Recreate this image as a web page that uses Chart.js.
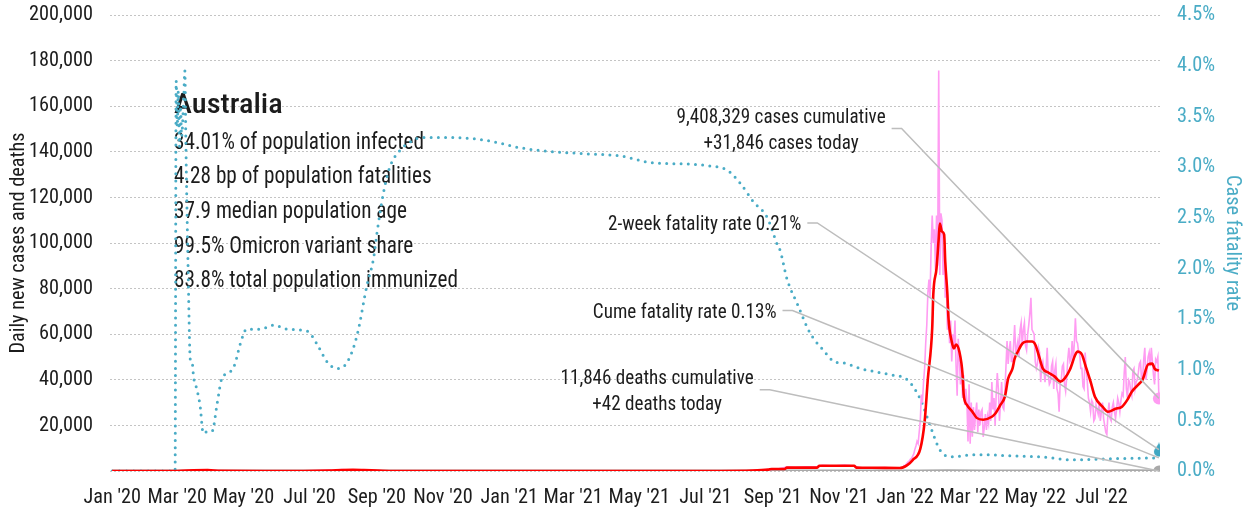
<!DOCTYPE html>
<html>
<head>
<meta charset="utf-8">
<script src="https://cdn.jsdelivr.net/npm/chart.js@4.4.1/dist/chart.umd.min.js"></script>
<style>
html,body{margin:0;padding:0;background:#fff;}
#wrap{width:1247px;height:508px;position:relative;}
</style>
</head>
<body>
<div id="wrap"><canvas id="c" width="1247" height="508"></canvas></div>
<script>
// ---------- DATA (x = days since 1 Jan 2020) ----------
const tickDays   = [0, 60, 121, 182, 244, 305, 366, 425, 486, 547, 609, 670, 731, 790, 851, 912];
const tickLabels = ["Jan '20","Mar '20","May '20","Jul '20","Sep '20","Nov '20","Jan '21","Mar '21","May '21","Jul '21","Sep '21","Nov '21","Jan '22","Mar '22","May '22","Jul '22"];

// 7-day average of daily new cases (red)
const avgDays   = [0,60,75,88,100,150,200,212,222,232,245,260,560,590,605,608,620,622,650,652,684,686,700,726,733,738,745,749,752,756,757,760,762,763,765,767,768,770,771,774,776,778,781,784,785,788,793,797,803,811,814,819,823,826,830,832,835,839,843,848,851,854,858,863,869,874,878,883,888,890,894,897,902,906,913,918,925,931,936,940,946,950,955,959,961,965];
const avgValues = [0,0,300,400,100,10,250,450,500,400,200,20,20,150,600,900,900,1500,1500,2300,2300,1500,1400,1300,2600,4800,9700,21600,40500,62600,77500,89000,102000,108500,105000,103700,92000,77500,67000,56800,53700,55500,52400,42300,33500,29000,26000,23300,22500,23800,25100,29100,32600,40500,44900,49300,52400,55900,56800,56800,55500,51100,44900,43200,41400,39200,40500,44500,51100,52400,51100,46700,39200,32600,28200,26000,27300,28200,31300,34800,37900,40100,46700,47100,44900,44000];

// daily new cases (pink): sparse before Dec 2021, then one value per day
const dailyEarlyDays   = [0,60,70,75,80,85,90,100,110,180,195,205,212,218,225,235,250,265,560,575,590,600,610,615,622,630,640,650,655,665,675,684,688,700,712,720,727];
const dailyEarlyValues = [0,10,200,350,460,400,300,100,20,50,200,400,650,450,550,300,100,20,20,100,250,500,800,1100,1700,1500,1800,2000,2500,2200,2600,2200,1500,1300,1500,1300,1400];
const dailyLateStart = 728;
const dailyLateValues = [
 1500,1800,2400,2200,3000,3600,4100,4500,5200,5500,
 6500,7500,9500,11000,13000,12000,17000,22000,33500,30000,
 39000,45000,56000,64000,78000,84000,76000,98000,112000,100000,
 106000,88000,112000,90000,175700,86000,113000,110000,86000,98000,
 76000,84000,62000,72000,56000,66000,48000,60000,55000,66000,
 46000,33000,58000,50000,38000,47000,32000,42000,29000,36000,
 30000,13000,38000,12000,30000,15000,28000,18000,25000,30000,
 17000,27000,20000,26000,27000,15000,19000,25000,18000,24000,
 21000,30000,22000,39000,27000,32000,20000,34000,43000,36000,
 22000,30000,39000,28000,27000,35000,46000,57000,47000,53000,
 57000,48000,48000,55000,64000,52000,54000,57000,50000,62000,
 65000,55000,62000,65000,55000,53000,60000,64000,69000,76000,
 62000,61000,60000,48000,45000,47000,54000,52000,39000,46000,
 48000,44000,39000,45000,54000,42000,38000,39000,46000,48000,
 36000,44000,47000,36000,34000,26000,39000,40000,46000,47000,
 38000,35000,41000,49000,54000,48000,49000,57000,48000,56000,
 67000,57000,56000,52000,51000,45000,45000,37000,36000,52000,
 45000,39000,32000,30000,26000,31000,30000,22000,23000,29000,
 27000,25000,30000,22000,26000,30000,23000,20000,17000,16000,
 25000,30000,23000,22000,28000,30000,26000,23000,27000,32000,
 30000,26000,31000,34000,33000,43000,50000,36000,32000,40000,
 39000,35000,33000,44000,45000,36000,39000,40000,43000,47000,
 48000,40000,41000,49000,54000,40000,44000,50000,52000,46000,
 54000,48000,42000,38000,49000,48000,50000,31846];

// cumulative case fatality rate, % (teal dotted, right axis)
const cfrDays   = [0,58,59,60,61,62,63,64,66,67,68,70,72,74,75,77,81,84,88,92,97,101,109,113,118,124,137,149,161,180,189,198,207,217,226,235,241,244,250,256,265,277,284,315,346,376,407,438,468,499,530,551,567,579,591,604,613,616,622,632,643,655,668,671,690,717,733,745,754,763,773,794,810,826,856,886,917,965];
const cfrValues = [0,0,3.85,3.4,3.75,3.2,3.6,3.3,3.7,3.95,3.2,2.0,1.1,1.05,0.93,0.85,0.65,0.37,0.39,0.39,0.68,0.91,0.98,1.05,1.25,1.40,1.40,1.44,1.40,1.38,1.25,1.08,1.01,1.08,1.35,1.84,2.10,2.34,2.74,3.0,3.16,3.26,3.29,3.29,3.26,3.19,3.15,3.13,3.11,3.04,3.03,3.01,2.97,2.84,2.66,2.50,2.24,2.17,1.90,1.64,1.37,1.20,1.07,1.07,1.01,0.95,0.90,0.71,0.45,0.21,0.14,0.16,0.16,0.15,0.14,0.11,0.12,0.13];

// daily deaths (gray)
const deathDays   = [0,70,100,180,215,240,600,640,700,745,770,800,850,900,940,965];
const deathValues = [0,4,2,3,18,5,2,12,5,20,80,45,40,30,85,42];

// latest 2-week fatality rate, %
const lastDay = 965;
const twoWeekRate = 0.21;

const infoTitle = 'Australia';
const infoLines = ['34.01% of population infected','4.28 bp of population fatalities','37.9 median population age','99.5% Omicron variant share','83.8% total population immunized'];

const noteTexts = [
  ['9,408,329 cases cumulative','+31,846 cases today'],
  ['2-week fatality rate 0.21%'],
  ['Cume fatality rate 0.13%'],
  ['11,846 deaths cumulative','+42 deaths today']
];

// ---------- fonts: pick a narrow face, then condense glyphs to the reference widths ----------
function hasFont(name) {
  const c = document.createElement('canvas').getContext('2d');
  const s = 'abcdefghijklmnopqrstuvwxyz0123456789,%ABC';
  let diff = false;
  ['monospace', 'serif'].forEach(fb => {
    c.font = `40px ${fb}`; const a = c.measureText(s).width;
    c.font = `40px "${name}", ${fb}`; const b = c.measureText(s).width;
    if (Math.abs(a - b) > 0.5) diff = true;
  });
  return diff;
}
const FACE = ['Liberation Sans Narrow', 'Roboto Condensed', 'Noto Sans Condensed', 'DejaVu Sans Condensed', 'Liberation Sans']
  .find(hasFont) || 'sans-serif';
const FONT = `"${FACE}", sans-serif`;

const mctx = document.createElement('canvas').getContext('2d');
function fit(text, size, target) {
  mctx.font = `${size}px ${FONT}`;
  const w = mctx.measureText(text).width;
  return Math.max(0.6, Math.min(1.2, target / w));
}
const SCALE = {
  tick:  fit('200,000', 21, 64),
  title: fit('Australia', 28, 107),
  info:  fit('34.01% of population infected', 23, 250),
  note:  fit('9,408,329 cases cumulative', 21, 209)
};
let hScale = SCALE.tick;
const origFill = CanvasRenderingContext2D.prototype.fillText;
CanvasRenderingContext2D.prototype.fillText = function (t, x, y) {
  if (hScale === 1) return origFill.call(this, t, x, y);
  this.save(); this.translate(x, y); this.scale(hScale, 1); origFill.call(this, t, 0, 0); this.restore();
};

// ---------- layout / style ----------
const TEAL = '#4aacc6';
const PINK = '#ff9cf2';
const RED  = '#ff0000';
const GRAY = '#a9a9a9';
const TEXT = '#1c1c1c';
const INFO = {day: 57, titleValue: 156800, firstValue: 141300, stepPx: 34.6};
const notePos = [
  {day: 616.7, value: 149340, target: 1},
  {day: 546.2, value: 107930, target: 4},
  {day: 527.8, value: 69470,  target: 2},
  {day: 502.4, value: 34800,  target: 3}
];

const pts = (xs, ys) => xs.map((x, i) => ({x, y: ys[i]}));
const dailyPts = pts(dailyEarlyDays, dailyEarlyValues).concat(dailyLateValues.map((v, i) => ({x: dailyLateStart + i, y: v})));

function makeDrop(color) {
  const c = document.createElement('canvas');
  c.width = 12; c.height = 15;
  const g = c.getContext('2d');
  g.fillStyle = color;
  g.beginPath();
  g.moveTo(6, 0);
  g.bezierCurveTo(7, 4, 11, 6.5, 11, 9.5);
  g.arc(6, 9.5, 5, 0, Math.PI, false);
  g.bezierCurveTo(1, 6.5, 5, 4, 6, 0);
  g.fill();
  return c;
}

const lastOnly = r => (c => c.dataIndex === c.dataset.data.length - 1 ? r : 0);

const notesPlugin = {
  id: 'notes',
  beforeDraw() { hScale = SCALE.tick; },
  beforeDatasetsDraw(chart) {
    const {ctx, scales: {x, y}} = chart;
    ctx.save();
    ctx.fillStyle = TEXT;
    ctx.textAlign = 'left';
    ctx.textBaseline = 'alphabetic';
    const px = x.getPixelForValue(INFO.day);
    ctx.font = `500 28px ${FONT}`;
    hScale = SCALE.title;
    ctx.fillText(infoTitle, px, y.getPixelForValue(INFO.titleValue));
    ctx.font = `23px ${FONT}`;
    hScale = SCALE.info;
    const y0 = y.getPixelForValue(INFO.firstValue);
    infoLines.forEach((t, i) => ctx.fillText(t, px, y0 + i * INFO.stepPx));
    hScale = SCALE.tick;
    ctx.restore();
  },
  afterDatasetsDraw(chart) {
    const {ctx, scales: {x, y}} = chart;
    ctx.save();
    ctx.font = `21px ${FONT}`;
    ctx.fillStyle = TEXT;
    ctx.textAlign = 'center';
    ctx.textBaseline = 'middle';
    ctx.strokeStyle = '#bdbdbd';
    ctx.lineWidth = 1.5;
    hScale = SCALE.note;
    notePos.forEach((n, k) => {
      const lines = noteTexts[k];
      const cx = x.getPixelForValue(n.day), cy = y.getPixelForValue(n.value);
      const w = Math.max(...lines.map(t => ctx.measureText(t).width)) * SCALE.note;
      const lh = 25.5;
      const top = cy - (lines.length - 1) * lh / 2;
      lines.forEach((t, i) => ctx.fillText(t, cx, top + i * lh));
      const meta = chart.getDatasetMeta(n.target);
      const el = meta.data[meta.data.length - 1];
      const sx = cx + w / 2 + 6, sy = cy - 2;
      ctx.beginPath();
      ctx.moveTo(sx, sy);
      ctx.lineTo(sx + 10, sy);
      ctx.lineTo(el.x, el.y);
      ctx.stroke();
    });
    hScale = SCALE.tick;
    ctx.restore();
  }
};

const fixV = w => (s => { s.width = w; s.paddingTop = 12; s.paddingBottom = 0; });

new Chart(document.getElementById('c'), {
  type: 'line',
  data: {
    datasets: [
      { label: '7-day average', data: pts(avgDays, avgValues), yAxisID: 'y', borderColor: RED, borderWidth: 2.6,
        pointRadius: 0, cubicInterpolationMode: 'monotone', order: 0 },
      { label: 'Daily cases', data: dailyPts, yAxisID: 'y', borderColor: PINK, borderWidth: 1.6,
        pointRadius: lastOnly(6), pointBackgroundColor: PINK, pointBorderWidth: 0, tension: 0, order: 1 },
      { label: 'Case fatality rate', data: pts(cfrDays, cfrValues), yAxisID: 'y1', borderColor: TEAL, borderWidth: 3,
        borderDash: [0, 7.2], borderCapStyle: 'round', pointRadius: 0, cubicInterpolationMode: 'monotone', order: 2 },
      { label: 'Daily deaths', data: pts(deathDays, deathValues), yAxisID: 'y', borderColor: GRAY, borderWidth: 3,
        pointRadius: lastOnly(5.5), pointBackgroundColor: GRAY, pointBorderWidth: 0, order: 3 },
      { label: '2-week fatality rate', data: [{x: lastDay, y: twoWeekRate}], yAxisID: 'y1', showLine: false,
        pointStyle: makeDrop('#3fa7c2'), pointRadius: 7, pointBorderWidth: 0, order: -1 }
    ]
  },
  options: {
    responsive: false,
    animation: false,
    devicePixelRatio: 1,
    layout: { autoPadding: false, padding: { top: 15, left: 0, right: 0, bottom: 0 } },
    plugins: { legend: { display: false }, tooltip: { enabled: false }, title: { display: false } },
    scales: {
      x: {
        type: 'linear', min: -2, max: 966,
        grid: { display: false, drawTicks: false },
        border: { display: false },
        afterBuildTicks: a => { a.ticks = tickDays.map(v => ({value: v})); },
        afterFit: s => { s.height = 37; s.paddingLeft = 0; s.paddingRight = 0; },
        ticks: { autoSkip: false, maxRotation: 0, padding: 14, color: TEXT,
          font: { family: FONT, size: 21 },
          callback: (v, i) => tickLabels[i] }
      },
      y: {
        position: 'left', min: 0, max: 200000,
        grid: { color: '#c4c4c4', lineWidth: 1, drawTicks: false },
        border: { display: false, dash: [2, 2] },
        afterFit: fixV(110),
        ticks: { stepSize: 20000, padding: 17, color: TEXT, font: { family: FONT, size: 21 },
          callback: v => v === 0 ? '' : v.toLocaleString('en-US') },
        title: { display: true, text: 'Daily new cases and deaths', color: TEXT,
          font: { family: FONT, size: 21 }, padding: { top: 6, bottom: 0 } }
      },
      y1: {
        position: 'right', min: 0, max: 4.5,
        grid: { display: false, drawTicks: false },
        border: { display: false },
        afterFit: fixV(87),
        ticks: { stepSize: 0.5, padding: 17, color: TEAL, font: { family: FONT, size: 21 },
          callback: v => v.toFixed(1) + '%' },
        title: { display: true, text: 'Case fatality rate', color: TEAL,
          font: { family: FONT, size: 21 }, padding: { top: 2, bottom: 0 } }
      }
    }
  },
  plugins: [notesPlugin]
});
</script>
</body>
</html>
